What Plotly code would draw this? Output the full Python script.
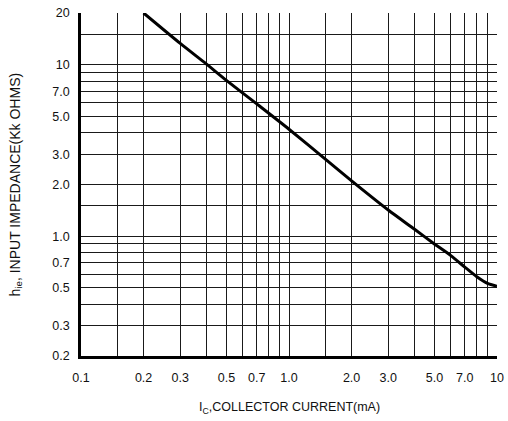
import math
import plotly.graph_objects as go

# Typical h_ie vs collector current
ic_ma = [0.2, 0.3, 0.4, 0.5, 0.7, 1.0, 1.5, 2.0, 3.0, 4.0, 5.0, 6.0, 7.0, 8.0, 9.0, 10.0]
hie_kohm = [20.0, 13.3, 10.1, 8.1, 5.9, 4.2, 2.8, 2.1, 1.42, 1.1, 0.9, 0.77, 0.66, 0.58, 0.53, 0.51]

# Axis labels and grid positions
x_tick_vals = [0.1, 0.2, 0.3, 0.5, 0.7, 1.0, 2.0, 3.0, 5.0, 7.0, 10]
x_tick_text = ["0.1", "0.2", "0.3", "0.5", "0.7", "1.0", "2.0", "3.0", "5.0", "7.0", "10"]
y_tick_vals = [0.2, 0.3, 0.5, 0.7, 1.0, 2.0, 3.0, 5.0, 7.0, 10, 20]
y_tick_text = ["0.2", "0.3", "0.5", "0.7", "1.0", "2.0", "3.0", "5.0", "7.0", "10", "20"]
x_grid = [0.15, 0.2, 0.3, 0.4, 0.5, 0.6, 0.7, 0.8, 0.9, 1.0, 1.5, 2, 3, 4, 5, 6, 7, 8, 9, 10]
y_grid = [0.3, 0.4, 0.5, 0.6, 0.7, 0.8, 0.9, 1.0, 1.5, 2, 3, 4, 5, 6, 7, 8, 9, 10, 15, 20]

FONT = "Liberation Sans, Arial, sans-serif"
x_title = "I<sub>C</sub>,COLLECTOR CURRENT(mA)"
y_title = "h<sub>ie</sub>, INPUT IMPEDANCE(Kk OHMS)"

fig = go.Figure()
fig.add_trace(go.Scatter(
    x=ic_ma, y=hie_kohm, mode="lines",
    line=dict(color="black", width=3, shape="spline", smoothing=0.6),
    showlegend=False, hoverinfo="skip",
))

axis_common = dict(
    type="log",
    showgrid=False,
    showline=True, linecolor="black", linewidth=2.5,
    ticks="", mirror=False,
    tickfont=dict(family=FONT, size=12.5, color="#111"),
    zeroline=False,
    automargin=False,
)

fig.update_xaxes(
    **axis_common,
    range=[math.log10(x_tick_vals[0]), math.log10(x_tick_vals[-1])],
    tickmode="array", tickvals=x_tick_vals, ticktext=x_tick_text,
    ticklabelstandoff=8,
    minor=dict(tickmode="array", tickvals=x_grid, showgrid=True,
               gridcolor="#1a1a1a", gridwidth=1, ticks=""),
)
fig.update_yaxes(
    **axis_common,
    range=[math.log10(y_tick_vals[0]), math.log10(y_tick_vals[-1])],
    tickmode="array", tickvals=y_tick_vals, ticktext=y_tick_text,
    ticklabelstandoff=6,
    minor=dict(tickmode="array", tickvals=y_grid, showgrid=True,
               gridcolor="#1a1a1a", gridwidth=1, ticks=""),
)

fig.add_annotation(
    text=x_title, xref="paper", yref="paper", x=0.5, y=0,
    xanchor="center", yanchor="top", yshift=-42, showarrow=False,
    font=dict(family=FONT, size=12.5, color="#111"),
)
fig.add_annotation(
    text=y_title, xref="paper", yref="paper", x=0, y=0.5,
    xanchor="center", yanchor="middle", xshift=-66, textangle=-90,
    showarrow=False, font=dict(family=FONT, size=14, color="#111"),
)

fig.update_layout(
    width=508, height=421,
    margin=dict(l=81, r=11, t=13, b=65),
    paper_bgcolor="white", plot_bgcolor="white",
)

fig.write_html("out.html")
